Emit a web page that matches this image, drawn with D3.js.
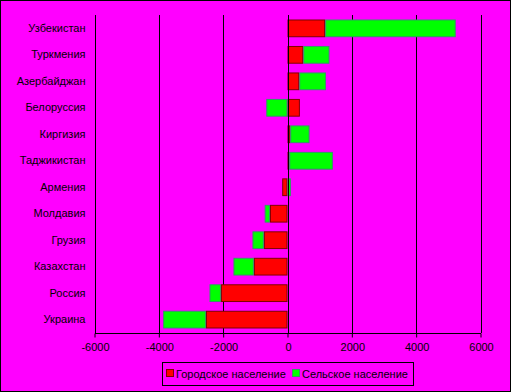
<!DOCTYPE html>
<html><head><meta charset="utf-8">
<script src="https://cdn.jsdelivr.net/npm/d3@7"></script>
<style>html,body{margin:0;padding:0;background:#FF00FF;}svg{display:block;}</style>
</head><body>
<svg id="chart" width="511" height="392"></svg>
<script>
const categories = ["Узбекистан","Туркмения","Азербайджан","Белоруссия","Киргизия","Таджикистан","Армения","Молдавия","Грузия","Казахстан","Россия","Украина"];
const urban = [1170, 490, 365, 385, 85, 55, -165, -545, -735, -1045, -2070, -2535];
const rural = [4060, 815, 830, -660, 600, 1355, 105, -165, -355, -635, -355, -1330];
const tickValues = [-6000, -4000, -2000, 0, 2000, 4000, 6000];
const seriesNames = ["Городское население", "Сельское население"];
const colors = ["#FF0000", "#00FF00"];
const strokes = ["#800000", "#339966"];

const svg = d3.select("#chart");
const W = 511, H = 392;
svg.append("rect").attr("x",0.5).attr("y",0.5).attr("width",W-1).attr("height",H-1)
  .attr("fill","#FF00FF").attr("stroke","#000").attr("stroke-width",1);

const pLeft = 94.5, pRight = 480.5, pTop = 15, pBottom = 333;
const x = d3.scaleLinear().domain([-6000, 6000]).range([pLeft, pRight]);
const y = d3.scaleBand().domain(categories).range([pTop, pBottom]).paddingInner(0.33).paddingOuter(0.17);

// gridlines
svg.append("g").selectAll("line").data(tickValues).join("line")
  .attr("x1", d => Math.round(x(d)) + 0.5).attr("x2", d => Math.round(x(d)) + 0.5)
  .attr("y1", pTop).attr("y2", pBottom)
  .attr("stroke", "#000").attr("stroke-width", 1);

const table = categories.map((c, i) => ({cat: c, u: urban[i], r: rural[i]}));
const stack = d3.stack().keys(["u","r"]).offset(d3.stackOffsetDiverging);
const series = stack(table);

const g = svg.append("g");
series.forEach((s, si) => {
  g.append("g").selectAll("rect").data(s).join("rect")
    .attr("x", d => x(Math.min(d[0], d[1])) + 0.5)
    .attr("y", d => y(d.data.cat) + 0.5)
    .attr("width", d => Math.max(0, Math.abs(x(d[1]) - x(d[0])) - 1))
    .attr("height", y.bandwidth() - 1)
    .attr("fill", colors[si])
    .attr("stroke", strokes[si]).attr("stroke-width", 1);
});

// zero line over bars
svg.append("line").attr("x1", Math.round(x(0))+0.5).attr("x2", Math.round(x(0))+0.5)
  .attr("y1", pTop).attr("y2", pBottom).attr("stroke","#000");

// x axis
const xAxis = d3.axisBottom(x).tickValues(tickValues).tickSize(4).tickPadding(6).tickFormat(d3.format("d"));
const ax = svg.append("g").attr("transform", `translate(0.5,${pBottom + 0.5})`).call(xAxis);
ax.select(".domain").attr("d", `M${pLeft},0H${pRight}`).attr("stroke","#000");
ax.selectAll(".tick line").attr("stroke","#000").attr("transform","translate(-0.5,0)");
ax.selectAll("text").attr("font-family","Liberation Sans, Arial, sans-serif").attr("font-size","11px").attr("fill","#000")
  .text(d => d < 0 ? "-" + Math.abs(d) : d);

// y axis labels
const yAxis = d3.axisLeft(y).tickSize(0).tickPadding(9);
const ay = svg.append("g").attr("transform", `translate(${pLeft},0)`).call(yAxis);
ay.select(".domain").remove();
ay.selectAll("text").attr("font-family","Liberation Sans, Arial, sans-serif").attr("font-size","11px").attr("fill","#000");

// legend
const lg = svg.append("g");
lg.append("rect").attr("x",162.5).attr("y",362.5).attr("width",251).attr("height",23)
  .attr("fill","none").attr("stroke","#000");
const legX = [166, 292];
seriesNames.forEach((n, i) => {
  lg.append("rect").attr("x", legX[i] + 0.5).attr("y", 369.5).attr("width", 7).attr("height", 7)
    .attr("fill", colors[i]).attr("stroke", strokes[i]);
  lg.append("text").attr("x", legX[i] + 10).attr("y", 377.5)
    .attr("font-family","Liberation Sans, Arial, sans-serif").attr("font-size","11px").attr("fill","#000")
    .text(n);
});
</script>
</body></html>
